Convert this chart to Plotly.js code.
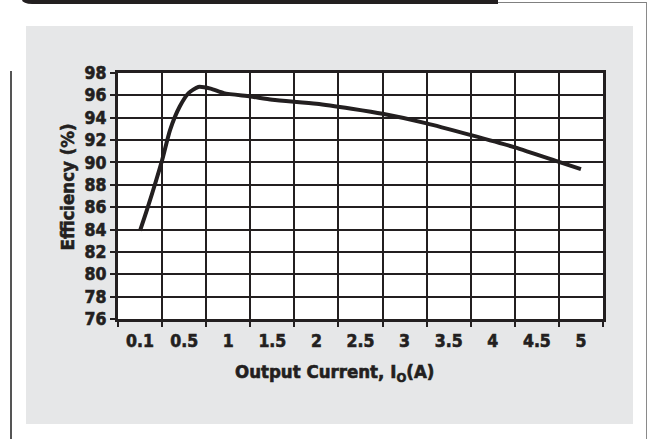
<!DOCTYPE html>
<html><head><meta charset="utf-8">
<script src="https://cdn.plot.ly/plotly-3.0.1.min.js"></script>
<style>
html,body{margin:0;padding:0;background:#fff;}
#wrap{position:relative;width:649px;height:439px;overflow:hidden;}
.d{position:absolute;}
#chart{position:absolute;left:0;top:0;width:649px;height:439px;}
#chart svg text{stroke:#231f20;stroke-width:0.6px;}
</style></head><body>
<div id="wrap">
<div class="d" style="left:26px;top:26px;width:607px;height:398px;background:#e6e7e8"></div>
<div class="d" style="left:22px;top:0;width:476px;height:3.5px;background:#231f20;border-bottom-left-radius:10px 4px"></div>
<div class="d" style="left:498px;top:2px;width:149px;height:1px;background:#808080"></div>
<div class="d" style="left:646px;top:2px;width:1.3px;height:437px;background:#8a8a8a"></div>
<div class="d" style="left:10px;top:71px;width:1.5px;height:368px;background:#555"></div>
<div id="chart"></div>
</div>
<script>
// Tick labels (x axis positions: one cell per label)
const xTickVals = [0, 0.5, 1, 1.5, 2, 2.5, 3, 3.5, 4, 4.5, 5];
const xTickLabels = ['0.1', '0.5', '1', '1.5', '2', '2.5', '3', '3.5', '4', '4.5', '5'];
const yTickVals = [76, 78, 80, 82, 84, 86, 88, 90, 92, 94, 96, 98];

// Efficiency curve (x in axis units, label "0.1" sits at 0)
const currentPos = [0, 0.08, 0.25, 0.34, 0.45, 0.55, 0.66, 0.8, 0.95, 1.25, 1.5, 2.0, 2.4, 2.75, 3.25, 3.75, 4.25, 4.75, 5.0];
const efficiency = [83.9, 85.8, 90.2, 92.9, 95.0, 96.2, 96.75, 96.6, 96.2, 95.9, 95.6, 95.25, 94.8, 94.35, 93.5, 92.45, 91.35, 90.05, 89.4];

const ink = '#231f20';
const fam = '"DejaVu Sans Condensed", sans-serif';
const half = 0.25;
const xGridVals = xTickVals.map(v => v - half).concat([xTickVals[xTickVals.length - 1] + half]);

const trace = {
  x: currentPos, y: efficiency, type: 'scatter', mode: 'lines',
  line: {color: ink, width: 4, shape: 'spline', smoothing: 0.6},
  hoverinfo: 'skip'
};

const layout = {
  width: 649, height: 439,
  margin: {l: 118, r: 46, t: 73, b: 120, pad: 0},
  paper_bgcolor: 'rgba(0,0,0,0)', plot_bgcolor: '#ffffff',
  showlegend: false,
  font: {family: fam, color: ink, size: 18, weight: 'bold'},
  xaxis: {
    range: [xGridVals[0], xGridVals[xGridVals.length - 1]],
    tickmode: 'array', tickvals: xTickVals, ticktext: xTickLabels,
    ticks: '', showgrid: false, zeroline: false,
    showline: true, mirror: true, linecolor: ink, linewidth: 3,
    tickfont: {family: fam, size: 17.5, color: ink, weight: 'bold'},
    ticklabelstandoff: 4,
    minor: {tickmode: 'array', tickvals: xGridVals, ticks: 'outside', ticklen: 5, tickwidth: 2, tickcolor: ink,
            showgrid: true, gridcolor: ink, gridwidth: 2},
    fixedrange: true
  },
  yaxis: {
    range: [yTickVals[0], yTickVals[yTickVals.length - 1]],
    tickmode: 'array', tickvals: yTickVals,
    ticks: 'outside', ticklen: 5, tickwidth: 2, tickcolor: ink,
    showgrid: true, gridcolor: ink, gridwidth: 2, zeroline: false,
    showline: true, mirror: true, linecolor: ink, linewidth: 3,
    tickfont: {family: fam, size: 17.5, color: ink, weight: 'bold'},
    fixedrange: true
  },
  annotations: [
    {text: 'Output Current, I<sub>O</sub>(A)', xref: 'paper', yref: 'paper', x: 0.447, y: -0.2215,
     xanchor: 'center', yanchor: 'middle', showarrow: false,
     font: {family: fam, size: 18.5, color: ink, weight: 'bold'}},
    {text: 'Efficiency (%)', xref: 'paper', yref: 'paper', x: -0.105, y: 0.535, textangle: -90,
     xanchor: 'center', yanchor: 'middle', showarrow: false,
     font: {family: fam, size: 18.5, color: ink, weight: 'bold'}}
  ]
};

Plotly.newPlot('chart', [trace], layout, {staticPlot: true, displayModeBar: false});
</script>
</body></html>
